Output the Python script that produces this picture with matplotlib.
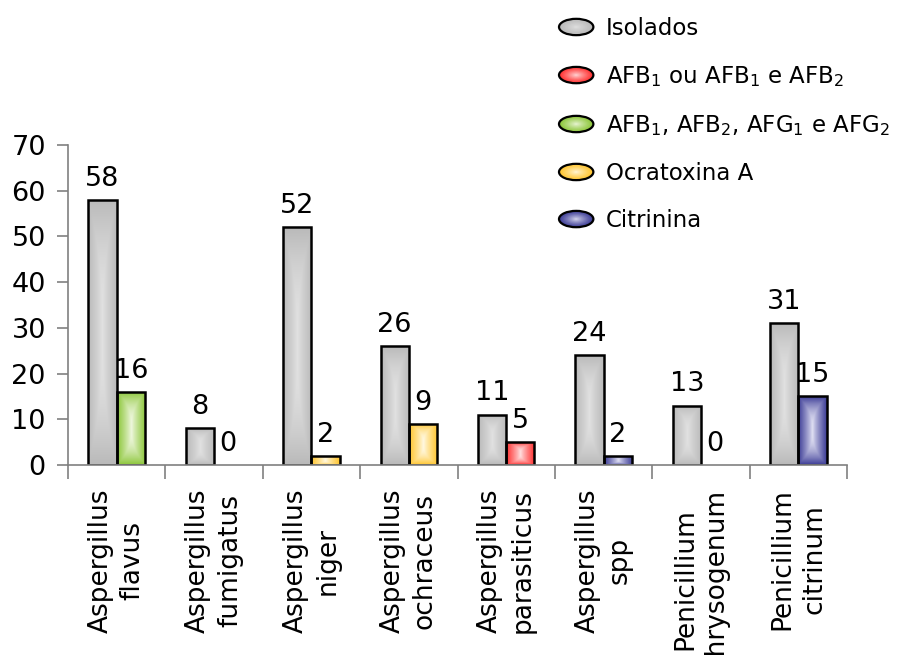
import numpy as np
import matplotlib
matplotlib.use("Agg")
import matplotlib.pyplot as plt
from matplotlib.patches import Ellipse, Patch
from matplotlib.legend_handler import HandlerBase
from matplotlib.colors import to_rgb

plt.rcParams["font.family"] = ["DejaVu Sans"]
plt.rcParams["mathtext.default"] = "regular"

# ---- data ----
categories = [
    "Aspergillus\nflavus", "Aspergillus\nfumigatus", "Aspergillus\nniger",
    "Aspergillus\nochraceus", "Aspergillus\nparasiticus", "Aspergillus\nspp",
    "Penicillium\nchrysogenum", "Penicillium\ncitrinum",
]
isolados = [58, 8, 52, 26, 11, 24, 13, 31]
toxigenicos = [16, 0, 2, 9, 5, 2, 0, 15]
toxina = ["afbg", None, "ocra", "ocra", "afb", "citr", None, "citr"]

series_labels = {
    "iso": "Isolados",
    "afb": "AFB$_1$ ou AFB$_1$ e AFB$_2$",
    "afbg": "AFB$_1$, AFB$_2$, AFG$_1$ e AFG$_2$",
    "ocra": "Ocratoxina A",
    "citr": "Citrinina",
}
# (edge colour, centre colour) of the centre-out gradient fills
gradients = {
    "iso": ("#bababa", "#e2e2e2"),
    "afb": ("#ff3030", "#ffe2e2"),
    "afbg": ("#8cc63a", "#f0f8e0"),
    "ocra": ("#ffc52e", "#fff9e4"),
    "citr": ("#3c3c96", "#e2e2f4"),
}


def gradient_image(edge, centre, n=80):
    e = np.array(to_rgb(edge))
    c = np.array(to_rgb(centre))
    u = np.linspace(-1, 1, n)
    U, V = np.meshgrid(u, u)
    t = np.maximum(np.abs(U), np.abs(V) ** 2.5)
    t = t ** 0.85
    return c[None, None, :] * (1 - t[..., None]) + e[None, None, :] * t[..., None]


fig = plt.figure(figsize=(8.98, 6.55), dpi=100)
ax = fig.add_axes([68 / 898, 1 - 465 / 655, (847 - 68) / 898, (465 - 145) / 655])

x = np.arange(len(categories))
width = 0.29
offset = 0.145


def gradient_bar(xc, h, key):
    bars = ax.bar(xc, h, width, color=gradients[key][0], edgecolor="none", zorder=2)
    rect = bars[0]
    if h > 0:
        img = gradient_image(*gradients[key])
        im = ax.imshow(img, extent=[xc - width / 2, xc + width / 2, 0, h],
                       aspect="auto", interpolation="bilinear", zorder=3, origin="lower")
        im.set_clip_path(rect)
        ax.bar(xc, h, width, fill=False, edgecolor="black", linewidth=1.8, zorder=4)


label_fs = 19.5
for i in range(len(categories)):
    xg = x[i] - offset
    gradient_bar(xg, isolados[i], "iso")
    ax.annotate(str(isolados[i]), (xg, isolados[i]), xytext=(0, 6),
                textcoords="offset points", ha="center", va="bottom", fontsize=label_fs)
    xt = x[i] + offset
    if toxina[i] is not None:
        gradient_bar(xt, toxigenicos[i], toxina[i])
    ax.annotate(str(toxigenicos[i]), (xt, toxigenicos[i]), xytext=(0, 6),
                textcoords="offset points", ha="center", va="bottom", fontsize=label_fs)

ax.set_xlim(-0.5, len(categories) - 0.5)
ax.set_ylim(0, 70)
ax.set_yticks(np.arange(0, 71, 10))
ax.tick_params(axis="y", labelsize=19.5, length=8, width=1.2, color="#808080", pad=8)

ax.set_xticks(x)
ax.set_xticklabels(categories, rotation=90, fontsize=19, linespacing=1.3,
                   ha="center", va="top", multialignment="center")
ax.set_xticks(np.arange(-0.5, len(categories), 1.0), minor=True)
ax.tick_params(axis="x", which="major", length=0, pad=17)
ax.tick_params(axis="x", which="minor", length=10, width=1.2, color="#808080")

for side in ("top", "right"):
    ax.spines[side].set_visible(False)
for side in ("left", "bottom"):
    ax.spines[side].set_color("#808080")
    ax.spines[side].set_linewidth(1.2)
ax.spines["bottom"].set_zorder(5)


class EllipseHandler(HandlerBase):
    def __init__(self, edge, centre):
        super().__init__()
        self.edge = np.array(to_rgb(edge))
        self.centre = np.array(to_rgb(centre))

    def create_artists(self, legend, orig_handle, xdescent, ydescent,
                       width, height, fontsize, trans):
        cx = width / 2 - xdescent
        cy = height / 2 - ydescent
        artists = []
        steps = 14
        for k in range(steps):
            s = 1 - k / steps
            t = s ** 0.8
            col = self.centre * (1 - t) + self.edge * t
            artists.append(Ellipse((cx, cy), width * s, height * s, facecolor=col,
                                   edgecolor="none", transform=trans))
        artists.append(Ellipse((cx, cy), width, height, facecolor="none",
                               edgecolor="black", linewidth=1.6, transform=trans))
        return artists


handles = []
hmap = {}
for key in ["iso", "afb", "afbg", "ocra", "citr"]:
    h = Patch(facecolor=gradients[key][0], label=series_labels[key])
    handles.append(h)
    hmap[h] = EllipseHandler(*gradients[key])

fig.legend(handles=handles, handler_map=hmap, loc="upper left",
           bbox_to_anchor=(559 / 898, 1 - 17 / 655), frameon=False,
           fontsize=16.5, handlelength=1.5, handleheight=0.72, handletextpad=0.55,
           labelspacing=1.05, borderpad=0, borderaxespad=0)

fig.savefig("out.png", dpi=100)
